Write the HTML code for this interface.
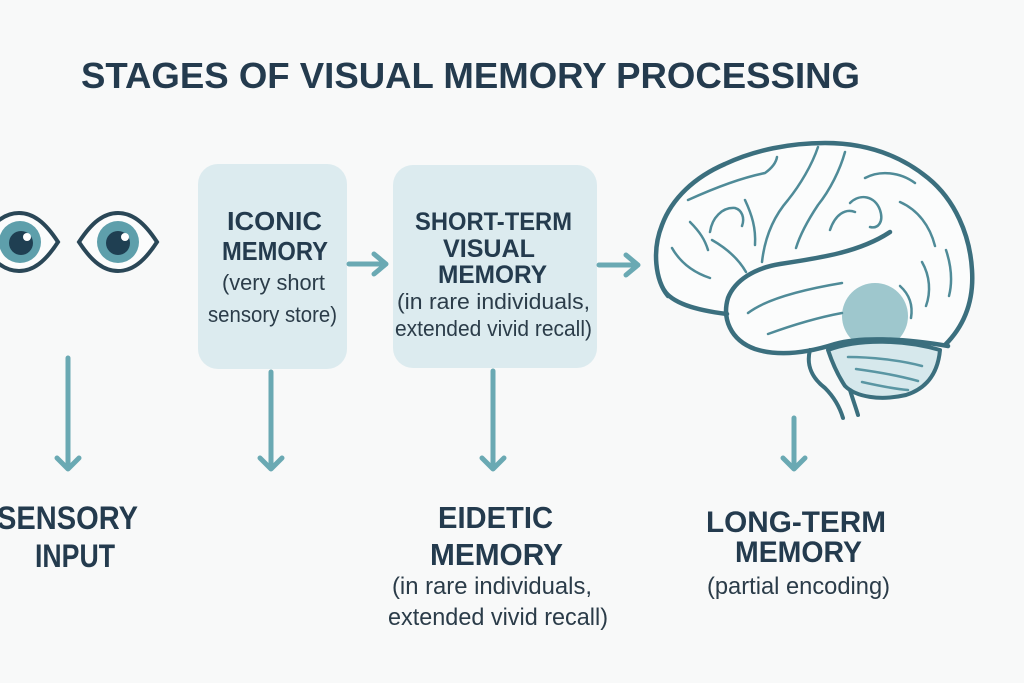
<!DOCTYPE html>
<html>
<head>
<meta charset="utf-8">
<style>
  html,body{margin:0;padding:0;background:#f8f9f9;}
  svg{display:block;}
  .t{font-family:"Liberation Sans",sans-serif;font-weight:bold;fill:#243b4e;}
  .r{font-family:"Liberation Sans",sans-serif;font-weight:normal;fill:#2b3c49;}
</style>
</head>
<body>
<svg width="1024" height="683" viewBox="0 0 1024 683" xmlns="http://www.w3.org/2000/svg">
  <rect x="0" y="0" width="1024" height="683" fill="#f8f9f9"/>

  <!-- Title -->
  <text class="t" x="81" y="88" font-size="36" textLength="779" lengthAdjust="spacingAndGlyphs">STAGES OF VISUAL MEMORY PROCESSING</text>

  <!-- Eyes -->
  <g stroke="#2a4757" stroke-width="4" fill="#fbfcfc">
    <path d="M -20 242 C -7 222, 5 213, 19 213 C 33 213, 45 222, 58 242 C 45 262, 33 271, 19 271 C 5 271, -7 262, -20 242 Z"/>
    <path d="M 79 242 C 92 222, 104 213, 118 213 C 132 213, 144 222, 157 242 C 144 262, 132 271, 118 271 C 104 271, 92 262, 79 242 Z"/>
  </g>
  <circle cx="20" cy="242" r="21" fill="#5e9fab"/>
  <circle cx="21" cy="243" r="12" fill="#1f3f52"/>
  <circle cx="27" cy="237" r="4" fill="#ffffff"/>
  <circle cx="118" cy="242" r="21" fill="#5e9fab"/>
  <circle cx="118" cy="243" r="12" fill="#1f3f52"/>
  <circle cx="125" cy="237" r="4" fill="#ffffff"/>

  <!-- Boxes -->
  <rect x="198" y="164" width="149" height="205" rx="20" ry="20" fill="#dcebef"/>
  <rect x="393" y="165" width="204" height="203" rx="20" ry="20" fill="#dcebef"/>

  <!-- Box 1 text -->
  <text class="t" x="227" y="230" font-size="26" textLength="95" lengthAdjust="spacingAndGlyphs">ICONIC</text>
  <text class="t" x="222" y="260" font-size="26" textLength="106" lengthAdjust="spacingAndGlyphs">MEMORY</text>
  <text class="r" x="222" y="290" font-size="22" textLength="103" lengthAdjust="spacingAndGlyphs">(very short</text>
  <text class="r" x="208" y="322" font-size="22" textLength="129" lengthAdjust="spacingAndGlyphs">sensory store)</text>

  <!-- Box 2 text -->
  <text class="t" x="415" y="230" font-size="25" textLength="157" lengthAdjust="spacingAndGlyphs">SHORT-TERM</text>
  <text class="t" x="443" y="257" font-size="25" textLength="92" lengthAdjust="spacingAndGlyphs">VISUAL</text>
  <text class="t" x="438" y="283" font-size="25" textLength="109" lengthAdjust="spacingAndGlyphs">MEMORY</text>
  <text class="r" x="397" y="309" font-size="22" textLength="193" lengthAdjust="spacingAndGlyphs">(in rare individuals,</text>
  <text class="r" x="395" y="336" font-size="22" textLength="197" lengthAdjust="spacingAndGlyphs">extended vivid recall)</text>

  <!-- Arrows -->
  <g stroke="#6aa9b3" stroke-width="5" fill="none" stroke-linecap="round" stroke-linejoin="round">
    <line x1="349" y1="264" x2="385" y2="264"/>
    <polyline points="374,254 386,264 374,274"/>
    <line x1="599" y1="265" x2="636" y2="265"/>
    <polyline points="626,255 638,265 626,275"/>
    <line x1="68" y1="358" x2="68" y2="468"/>
    <polyline points="57,458 68,469 79,458"/>
    <line x1="271" y1="372" x2="271" y2="468"/>
    <polyline points="260,458 271,469 282,458"/>
    <line x1="493" y1="371" x2="493" y2="468"/>
    <polyline points="482,458 493,469 504,458"/>
    <line x1="794" y1="418" x2="794" y2="468"/>
    <polyline points="783,458 794,469 805,458"/>
  </g>

  <!-- Brain -->
  <g fill="none" stroke-linecap="round" stroke-linejoin="round">
    <!-- cerebrum fill -->
    <path d="M 668 296 C 655 280, 652 250, 662 225 C 672 198, 695 177, 725 164 C 755 150, 790 143, 825 143 C 865 143, 900 155, 928 178 C 955 200, 970 235, 972 270 C 974 300, 965 325, 945 345 C 900 338, 860 337, 835 344 C 810 352, 780 357, 755 349 C 735 342, 727 325, 727 314 C 700 310, 675 305, 668 296 Z" fill="#fbfcfc" stroke="none"/>
    <!-- shaded circle -->
    <circle cx="875" cy="316" r="33" fill="#9ec7cd" stroke="none"/>
    <!-- cerebellum -->
    <path d="M 828 350 C 860 338, 905 340, 940 350 C 938 372, 928 388, 906 395 C 880 401, 856 397, 845 386 C 837 374, 832 362, 828 350 Z" fill="#d6e8ec" stroke="#3b6f7e" stroke-width="4"/>
    <!-- brainstem -->
    <path d="M 810 350 C 806 365, 812 378, 825 388 C 835 398, 840 408, 843 418" stroke="#3b6f7e" stroke-width="4"/>
    <path d="M 850 390 C 853 400, 856 408, 858 415" stroke="#3b6f7e" stroke-width="4"/>
    <!-- cerebellum inner lines -->
    <g stroke="#5a96a3" stroke-width="2.5">
      <path d="M 848 357 C 870 357, 900 360, 922 366"/>
      <path d="M 856 369 C 878 372, 900 376, 918 381"/>
      <path d="M 862 382 C 880 386, 896 389, 908 390"/>
    </g>
    <!-- outer outline -->
    <path d="M 668 296 C 655 280, 652 250, 662 225 C 672 198, 695 177, 725 164 C 755 150, 790 143, 825 143 C 865 143, 900 155, 928 178 C 955 200, 970 235, 972 270 C 974 300, 965 325, 945 345" stroke="#3b6f7e" stroke-width="4.5"/>
    <!-- frontal bottom -->
    <path d="M 664 290 C 672 303, 695 310, 727 314" stroke="#3b6f7e" stroke-width="4.5"/>
    <!-- temporal lobe -->
    <path d="M 890 232 C 860 252, 820 258, 780 264 C 755 268, 735 280, 728 298 C 722 318, 730 340, 755 349 C 780 357, 810 352, 835 344 C 860 337, 900 338, 948 346" stroke="#3b6f7e" stroke-width="4.5"/>
    <!-- gyri -->
    <g stroke="#4f8b98" stroke-width="2.5">
      <path d="M 818 147 C 812 165, 800 185, 788 200 C 775 215, 765 235, 762 262"/>
      <path d="M 845 152 C 840 170, 830 190, 818 205 C 808 220, 800 235, 796 248"/>
      <path d="M 688 200 C 710 190, 740 178, 765 173 C 772 168, 776 163, 777 157"/>
      <path d="M 710 232 C 712 218, 722 207, 735 208 C 742 210, 745 218, 742 226"/>
      <path d="M 672 248 C 680 262, 692 272, 710 278"/>
      <path d="M 712 240 C 726 248, 738 258, 746 272"/>
      <path d="M 690 222 C 700 232, 705 240, 708 250"/>
      <path d="M 745 200 C 752 215, 756 228, 755 245"/>
      <path d="M 865 178 C 880 170, 900 172, 915 183"/>
      <path d="M 850 203 C 860 193, 875 196, 880 210 C 884 222, 878 229, 870 227"/>
      <path d="M 900 202 C 918 210, 930 226, 935 246"/>
      <path d="M 946 250 C 951 265, 953 280, 949 296"/>
      <path d="M 922 262 C 930 276, 931 292, 926 306"/>
      <path d="M 900 286 C 910 295, 913 306, 911 318"/>
      <path d="M 748 313 C 765 300, 800 290, 842 283"/>
      <path d="M 768 334 C 790 326, 815 318, 842 313"/>
      <path d="M 830 230 C 835 215, 845 208, 855 212"/>
    </g>
  </g>

  <!-- Bottom labels -->
  <text class="t" x="-3" y="529" font-size="32" textLength="141" lengthAdjust="spacingAndGlyphs">SENSORY</text>
  <text class="t" x="35" y="567" font-size="32" textLength="80" lengthAdjust="spacingAndGlyphs">INPUT</text>

  <text class="t" x="438" y="528" font-size="31" textLength="115" lengthAdjust="spacingAndGlyphs">EIDETIC</text>
  <text class="t" x="430" y="565" font-size="31" textLength="133" lengthAdjust="spacingAndGlyphs">MEMORY</text>
  <text class="r" x="392" y="594" font-size="24" textLength="200" lengthAdjust="spacingAndGlyphs">(in rare individuals,</text>
  <text class="r" x="388" y="625" font-size="24" textLength="220" lengthAdjust="spacingAndGlyphs">extended vivid recall)</text>

  <text class="t" x="706" y="532" font-size="30" textLength="180" lengthAdjust="spacingAndGlyphs">LONG-TERM</text>
  <text class="t" x="735" y="562" font-size="30" textLength="127" lengthAdjust="spacingAndGlyphs">MEMORY</text>
  <text class="r" x="707" y="594" font-size="24" textLength="183" lengthAdjust="spacingAndGlyphs">(partial encoding)</text>
</svg>
</body>
</html>
